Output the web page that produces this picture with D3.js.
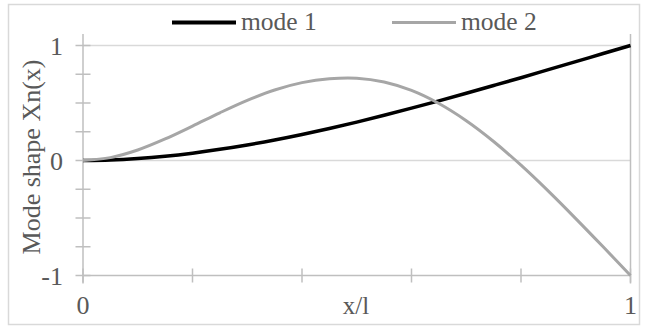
<!DOCTYPE html>
<html>
<head>
<meta charset="utf-8">
<script src="https://cdn.jsdelivr.net/npm/d3@7"></script>
<style>
  html, body { margin: 0; padding: 0; background: #fff; }
  svg { display: block; }
  text { font-family: "Liberation Serif", "Times New Roman", serif; fill: #595959; }
</style>
</head>
<body>
<svg id="chart" width="647" height="327"></svg>
<script>
// Normalised position along the beam
const positions = [0, 0.05, 0.1, 0.15, 0.2, 0.25, 0.3, 0.35, 0.4, 0.45, 0.5,
                   0.55, 0.6, 0.65, 0.7, 0.75, 0.8, 0.85, 0.9, 0.95, 1];
// First bending mode (tip = +1)
const mode1 = [0, 0.004, 0.017, 0.037, 0.064, 0.097, 0.135, 0.178, 0.226, 0.278, 0.334,
               0.393, 0.455, 0.519, 0.585, 0.652, 0.720, 0.790, 0.860, 0.930, 1.0];
// Second bending mode (tip = -1)
const mode2 = [0, 0.025, 0.091, 0.187, 0.299, 0.415, 0.523, 0.613, 0.677, 0.711, 0.716,
               0.6825, 0.609, 0.4955, 0.346, 0.1655, -0.041, -0.2665, -0.505, -0.7505, -1.0];
const seriesNames = ["mode 1", "mode 2"];
const seriesColors = ["#000000", "#a6a6a6"];
const xTickLabels = ["0", "1"];
const yTickLabels = ["-1", "0", "1"];
const xMinorTicks = [0, 0.2, 0.4, 0.6, 0.8, 1];
const yMinorTicks = [-1, -0.75, -0.5, -0.25, 0, 0.25, 0.5, 0.75, 1];

const svg = d3.select("#chart");

// Outer chart frame
svg.append("rect")
  .attr("x", 8.5).attr("y", 4.5).attr("width", 631).attr("height", 320)
  .attr("fill", "#fff").attr("stroke", "#d9d9d9").attr("stroke-width", 1.5);

const x = d3.scaleLinear().domain([0, 1]).range([83, 630.5]);
const y = d3.scaleLinear().domain([-1, 1]).range([275.5, 45.5]);

const grid = "#d9d9d9";
const axisCol = "#bfbfbf";

// Horizontal gridlines at y = 0 and y = 1
svg.append("g").selectAll("line").data([0, 1]).join("line")
  .attr("x1", x(0)).attr("x2", x(1))
  .attr("y1", d => y(d)).attr("y2", d => y(d))
  .attr("stroke", grid).attr("stroke-width", 1.5);

// Vertical lines at x = 0 and x = 1
svg.append("g").selectAll("line").data([0, 1]).join("line")
  .attr("x1", d => x(d)).attr("x2", d => x(d))
  .attr("y1", 34).attr("y2", y(-1) + 8)
  .attr("stroke", axisCol).attr("stroke-width", 1.5);

// Bottom axis line
svg.append("line")
  .attr("x1", x(0)).attr("x2", x(1)).attr("y1", y(-1)).attr("y2", y(-1))
  .attr("stroke", axisCol).attr("stroke-width", 1.5);

// Cross tick marks
svg.append("g").selectAll("line").data(xMinorTicks).join("line")
  .attr("x1", d => x(d)).attr("x2", d => x(d))
  .attr("y1", y(-1) - 7).attr("y2", y(-1) + 7)
  .attr("stroke", axisCol).attr("stroke-width", 1.5);
svg.append("g").selectAll("line").data(yMinorTicks).join("line")
  .attr("x1", x(0) - 7.5).attr("x2", x(0) + 7.5)
  .attr("y1", d => y(d)).attr("y2", d => y(d))
  .attr("stroke", axisCol).attr("stroke-width", 1.5);

// Tick labels
svg.append("g").selectAll("text").data(yTickLabels).join("text")
  .attr("x", 63).attr("y", d => y(+d))
  .attr("dy", "0.35em")
  .attr("text-anchor", "end")
  .attr("font-size", 26)
  .text(d => d);
svg.append("g").selectAll("text").data(xTickLabels).join("text")
  .attr("x", d => x(+d)).attr("y", 314)
  .attr("text-anchor", "middle")
  .attr("font-size", 26)
  .text(d => d);

// Axis titles
svg.append("text")
  .attr("x", 356).attr("y", 314)
  .attr("text-anchor", "middle")
  .attr("font-size", 25)
  .text("x/l");
svg.append("text")
  .attr("transform", "translate(40,157) rotate(-90)")
  .attr("text-anchor", "middle")
  .attr("font-size", 26)
  .text("Mode shape Xn(x)");

// Mode shape curves
const series = [mode1, mode2];
const line = d3.line()
  .x((d, i) => x(positions[i]))
  .y(d => y(d))
  .curve(d3.curveCatmullRom);
svg.append("g").selectAll("path").data(series).join("path")
  .attr("d", d => line(d))
  .attr("fill", "none")
  .attr("stroke", (d, i) => seriesColors[i])
  .attr("stroke-width", (d, i) => i === 0 ? 3.5 : 3)
  .attr("stroke-linejoin", "round");

// Legend
const legendX = [172, 392];
const lg = svg.append("g").selectAll("g").data(seriesNames).join("g")
  .attr("transform", (d, i) => `translate(${legendX[i]},22.5)`);
lg.append("line")
  .attr("x1", 0).attr("x2", 64).attr("y1", 0).attr("y2", 0)
  .attr("stroke", (d, i) => seriesColors[i])
  .attr("stroke-width", (d, i) => i === 0 ? 4 : 3);
lg.append("text")
  .attr("x", 69).attr("y", 7)
  .attr("font-size", 25.5)
  .text(d => d);
</script>
</body>
</html>
